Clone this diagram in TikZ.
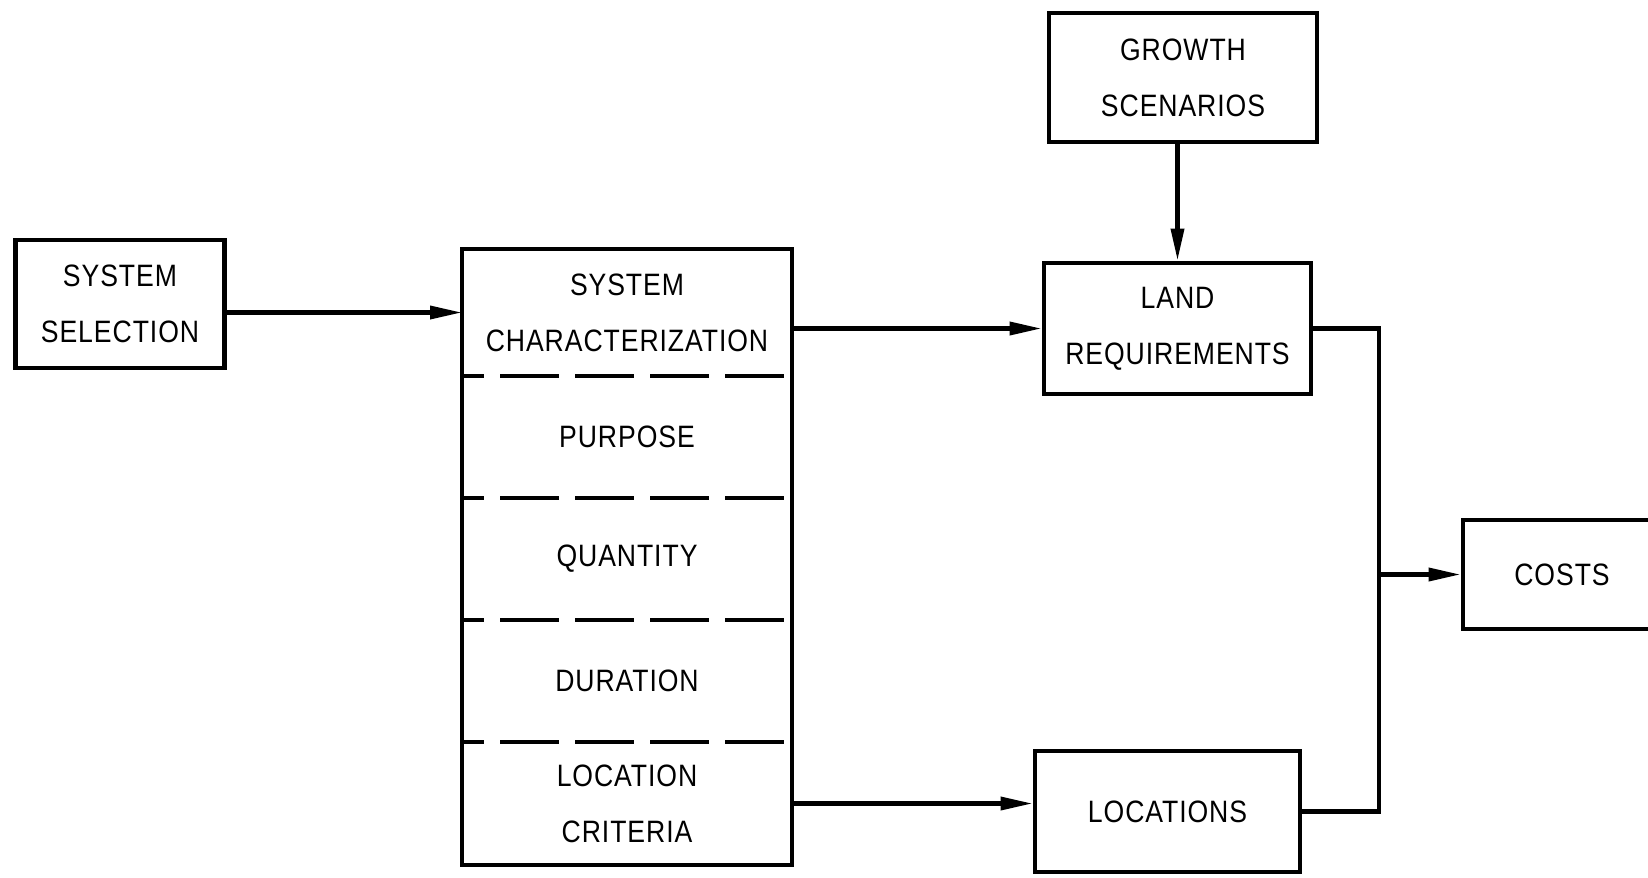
\documentclass[tikz,border=0pt]{standalone}
\usepackage{fontspec}
\setmainfont{Liberation Sans}[LetterSpace=3, FakeStretch=0.86]
\usepackage{tikz}
\usetikzlibrary{arrows.meta,positioning,calc}

\begin{document}
\begin{tikzpicture}[
    box/.style={rectangle, draw, line width=3.4pt, align=center, inner sep=0pt},
    section/.style={rectangle, align=center, inner sep=0pt, outer sep=0pt,
        minimum width=8.25cm, minimum height=3.05cm},
    divider/.style={line width=3.2pt, dash pattern=on 1.475cm off 0.4cm, dash phase=0.925cm},
    flow/.style={-{Triangle[length=8mm, width=3.2mm]}, line width=3pt},
    link/.style={line width=3pt},
    every node/.style={font=\fontsize{22}{40}\selectfont}
]
\useasboundingbox (0,0) rectangle (41.2,-21.925);

% Left input
\node[box, minimum width=5.225cm, minimum height=3.2cm] (sel) at (3.0,-7.6) {SYSTEM\\SELECTION};

% Characterization column
\node[section, minimum height=3.175cm] (head) at (15.675,-7.8125) {SYSTEM\\CHARACTERIZATION};
\node[section, below=0pt of head] (purpose) {PURPOSE};
\node[section, below=0pt of purpose] (quantity) {QUANTITY};
\node[section, below=0pt of quantity] (duration) {DURATION};
\node[section, below=0pt of duration, minimum height=3.075cm] (loccrit) {LOCATION\\CRITERIA};
\draw[line width=3.4pt] (head.north west) rectangle (loccrit.south east);
\foreach \s in {purpose,quantity,duration,loccrit}
    \draw[divider] (\s.north west) -- (\s.north east);

% Right side
\node[box, minimum width=6.7cm, minimum height=3.225cm] (growth) at (29.575,-1.9375) {GROWTH\\SCENARIOS};
\node[box, minimum width=6.675cm, minimum height=3.275cm] (land) at (29.4375,-8.2125) {LAND\\REQUIREMENTS};
\node[box, minimum width=6.625cm, minimum height=3.025cm] (locs) at (29.1875,-20.2875) {LOCATIONS};
\node[box, minimum width=4.95cm, minimum height=2.725cm] (costs) at (39.05,-14.3625) {COSTS};
\coordinate (junc) at (34.475,-14.3625);

% Connections
\draw[flow] (sel.east |- head.west) -- (head.west);
\draw[flow] (head.east |- land.west) -- (land.west);
\draw[flow] (land.north |- growth.south) -- (land.north);
\draw[flow] (loccrit.east) -- (loccrit.east -| locs.west);
\draw[link] (land.east) -| (junc);
\draw[link] (locs.east) -| (junc);
\draw[flow] (junc) -- (costs.west);
\end{tikzpicture}
\end{document}
